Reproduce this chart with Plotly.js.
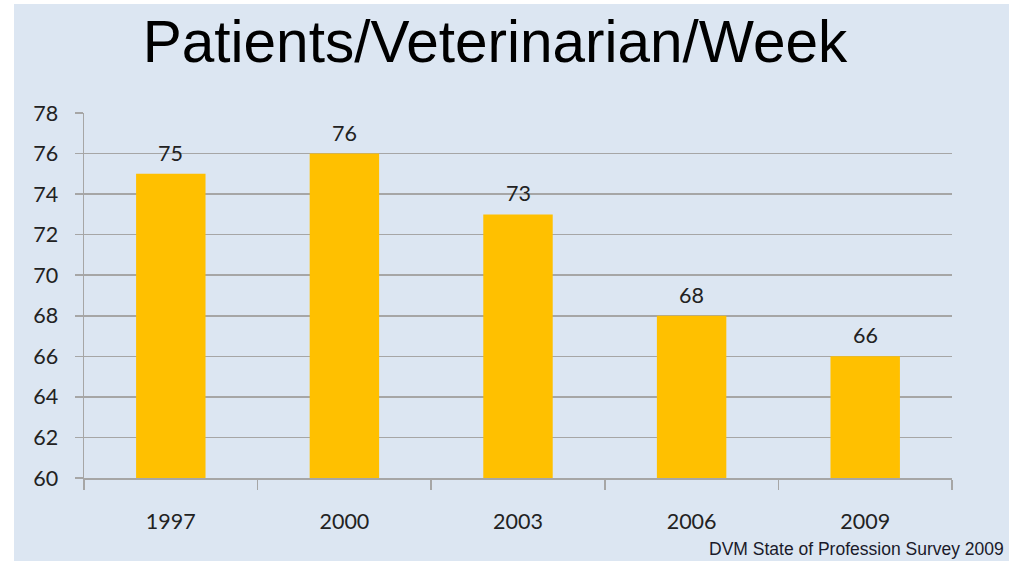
<!DOCTYPE html>
<html><head><meta charset="utf-8">
<script src="https://cdn.plot.ly/plotly-3.0.1.min.js"></script>
<style>
html,body{margin:0;padding:0;background:#ffffff;width:1009px;height:562px;overflow:hidden;}
#chart{position:absolute;left:14px;top:4px;width:995px;height:557px;}
</style></head>
<body><div id="chart"></div>
<script>
const years = ["1997", "2000", "2003", "2006", "2009"];
const patients = [75, 76, 73, 68, 66];
const yTicks = [60, 62, 64, 66, 68, 70, 72, 74, 76, 78];
const titleText = "Patients/Veterinarian/Week";
const sourceText = "DVM State of Profession Survey 2009";

const tickFont = {family: "Lato, 'Open Sans', sans-serif", size: 21.5, color: "#222222"};

const trace = {
  type: "bar",
  x: years,
  y: patients,
  marker: {color: "#FFC000", line: {width: 0}},
  width: 0.4,
  hoverinfo: "skip"
};

const labels = years.map((yr, i) => ({
  x: i, y: patients[i], xref: "x", yref: "y",
  text: String(patients[i]), showarrow: false,
  yanchor: "bottom", yshift: 6,
  font: tickFont
}));
labels.push({
  xref: "paper", yref: "paper", x: 1.062, y: -0.2274,
  xanchor: "right", yanchor: "bottom",
  text: sourceText, showarrow: false,
  font: {family: "'Liberation Sans', Arial, sans-serif", size: 17.5, color: "#1a1a2a"}
});

const layout = {
  width: 995, height: 557,
  margin: {l: 70, r: 57, t: 109, b: 83},
  paper_bgcolor: "#DCE6F2",
  plot_bgcolor: "#DCE6F2",
  showlegend: false,
  title: {
    text: titleText,
    font: {family: "'Liberation Sans', Arial, sans-serif", size: 58.5, color: "#000000"},
    x: 0.4835, xanchor: "center",
    y: 0.895, yanchor: "bottom", yref: "container"
  },
  xaxis: {
    type: "category",
    range: [-0.5, 4.5],
    tickson: "boundaries",
    ticks: "outside", ticklen: 10, tickcolor: "#a6a6a6", tickwidth: 1.5,
    ticklabelstandoff: 24,
    showgrid: false,
    showline: true, linecolor: "#a6a6a6", linewidth: 1.5,
    tickfont: tickFont,
    fixedrange: true
  },
  yaxis: {
    range: [60, 78],
    tickvals: yTicks,
    ticktext: yTicks.map(String),
    ticks: "outside", ticklen: 8, tickcolor: "#a6a6a6", tickwidth: 1.5,
    ticklabelstandoff: 12,
    showgrid: true, gridcolor: "#a6a6a6", gridwidth: 1.5,
    showline: true, linecolor: "#a6a6a6", linewidth: 1.5,
    zeroline: false,
    tickfont: tickFont,
    fixedrange: true
  },
  annotations: labels
};

Plotly.newPlot("chart", [trace], layout, {displayModeBar: false, staticPlot: true});
</script></body></html>
